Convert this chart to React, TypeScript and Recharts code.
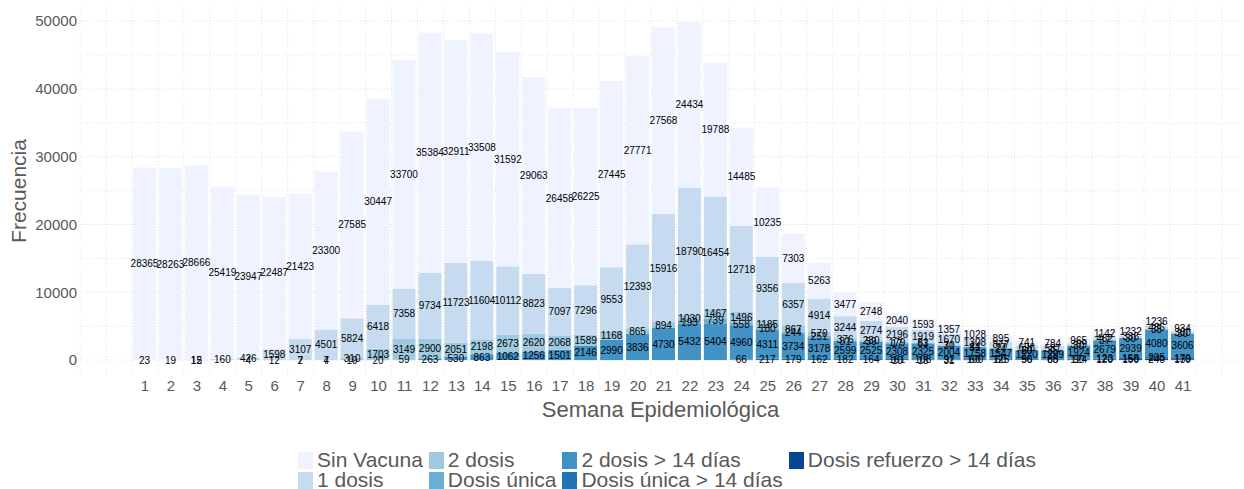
import React from 'react'
import { Bar, BarChart, CartesianGrid, LabelList, XAxis, YAxis } from 'recharts'

const weeks = [
  1, 2, 3, 4, 5, 6, 7, 8, 9, 10, 11, 12, 13, 14, 15, 16, 17, 18, 19, 20, 21,
  22, 23, 24, 25, 26, 27, 28, 29, 30, 31, 32, 33, 34, 35, 36, 37, 38, 39, 40, 41,
]

const sinVacuna = [
  28365, 28263, 28666, 25419, 23947, 22487, 21423, 23300, 27585, 30447, 33700,
  35384, 32911, 33508, 31592, 29063, 26458, 26225, 27445, 27771, 27568, 24434,
  19788, 14485, 10235, 7303, 5263, 3477, 2748, 2040, 1593, 1357, 1028, 895, 741,
  784, 965, 1142, 1232, 1236, 934,
]
const unaDosis = [
  23, 19, 15, 160, 426, 1598, 3107, 4501, 5824, 6418, 7358, 9734, 11723, 11604,
  10112, 8823, 7097, 7296, 9553, 12393, 15916, 18790, 16454, 12718, 9356, 6357,
  4914, 3244, 2774, 2196, 1919, 1670, 1308, 877, 696, 581, 309, 462, 336, 486, 300,
]
const dosDosis = [
  0, 0, 12, 0, 4, 12, 7, 7, 310, 1703, 3149, 2900, 2051, 2198, 2673, 2620, 2068,
  1589, 1168, 865, 894, 1030, 1467, 1496, 1185, 867, 570, 376, 280, 179, 81, 70,
  44, 77, 60, 35, 30, 37, 30, 35, 30,
]
const dosisUnica = [
  0, 0, 0, 0, 0, 0, 0, 0, 0, 0, 0, 0, 0, 0, 0, 0, 0, 0, 0, 0, 0, 193, 739, 558,
  180, 244, 251, 81, 59, 17, 63, 31, 31, 24, 20, 0, 0, 0, 0, 0, 0,
]
const dosDosis14 = [
  0, 0, 0, 0, 0, 0, 2, 4, 19, 20, 59, 263, 530, 863, 1062, 1256, 1501, 2146,
  2990, 3836, 4730, 5432, 5404, 4960, 4311, 3734, 3178, 2599, 2525, 2308, 2325,
  2004, 1758, 1547, 1270, 1299, 1924, 2679, 2939, 4080, 3606,
]
const dosisUnica14 = [
  0, 0, 0, 0, 0, 0, 0, 0, 0, 0, 0, 0, 0, 0, 0, 0, 0, 0, 0, 0, 0, 0, 0, 66, 217,
  179, 162, 182, 164, 161, 108, 92, 100, 125, 56, 85, 124, 123, 158, 205, 179,
]
const refuerzo14 = [
  0, 0, 0, 0, 0, 0, 0, 0, 0, 0, 0, 0, 0, 0, 0, 0, 0, 0, 0, 0, 0, 0, 0, 0, 0, 0,
  0, 0, 0, 10, 18, 31, 60, 60, 90, 60, 90, 120, 150, 240, 130,
]

const yTicks = [0, 10000, 20000, 30000, 40000, 50000]
const yGrid = [0, 5000, 10000, 15000, 20000, 25000, 30000, 35000, 40000, 45000, 50000]
const xGrid = [-1.5, -0.5, ...weeks.map((w) => w - 0.5), 41.5, 42.5]

// bottom of the stack first
const series = [
  { key: 'refuerzo14', name: 'Dosis refuerzo > 14 días', color: '#084594', values: refuerzo14 },
  { key: 'dosisUnica14', name: 'Dosis única > 14 días', color: '#2171b5', values: dosisUnica14 },
  { key: 'dosDosis14', name: '2 dosis > 14 días', color: '#4292c6', values: dosDosis14 },
  { key: 'dosisUnica', name: 'Dosis única', color: '#6baed6', values: dosisUnica },
  { key: 'dosDosis', name: '2 dosis', color: '#9ecae1', values: dosDosis },
  { key: 'unaDosis', name: '1 dosis', color: '#c6dbef', values: unaDosis },
  { key: 'sinVacuna', name: 'Sin Vacuna', color: '#eff3ff', values: sinVacuna },
]

const legendOrder = [...series].reverse()

const data = weeks.map((week, i) => {
  const row: Record<string, number> = { week }
  series.forEach((s) => {
    row[s.key] = s.values[i]
  })
  return row
})

const FONT = '"Liberation Sans", Arial, Helvetica, sans-serif'
const TEXT = '#595959'

export default function App() {
  return (
    <div
      style={{
        position: 'absolute',
        left: 0,
        top: 0,
        width: 1244,
        height: 489,
        background: '#fff',
        fontFamily: FONT,
      }}
    >
      <BarChart
        width={1244}
        height={489}
        data={data}
        margin={{ top: 5, right: 4, bottom: 72, left: 0 }}
        barCategoryGap={0}
      >
        <CartesianGrid
          stroke="#e3e3e3"
          strokeDasharray="1 2"
          horizontalValues={yGrid}
          verticalValues={xGrid}
        />
        <XAxis
          dataKey="week"
          type="number"
          domain={[-1.466, 43.197]}
          allowDataOverflow
          ticks={weeks}
          interval={0}
          tickLine={false}
          axisLine={false}
          tickSize={0}
          tickMargin={3}
          height={40}
          tick={{ fill: TEXT, fontSize: 15, fontFamily: FONT }}
          label={{
            value: 'Semana Epidemiológica',
            position: 'insideBottom',
            offset: 0,
            fill: TEXT,
            fontSize: 22,
            fontFamily: FONT,
          }}
        />
        <YAxis
          type="number"
          domain={[-2494, 52373]}
          allowDataOverflow
          ticks={yTicks}
          width={81}
          tickLine={false}
          axisLine={false}
          tickSize={0}
          tickMargin={4}
          tick={{ fill: TEXT, fontSize: 15, fontFamily: FONT }}
          label={{
            value: 'Frecuencia',
            angle: -90,
            position: 'insideLeft',
            offset: 19,
            fill: TEXT,
            fontSize: 21,
            fontFamily: FONT,
            style: { textAnchor: 'middle' },
          }}
        />
        {series.map((s) => (
          <Bar
            key={s.key}
            dataKey={s.key}
            name={s.name}
            stackId="a"
            fill={s.color}
            barSize={23}
            isAnimationActive={false}
          >
            <LabelList
              dataKey={s.key}
              position="center"
              fill="#000"
              fontSize={10}
              fontFamily={FONT}
              formatter={(v: any) => (v ? String(v) : '')}
            />
          </Bar>
        ))}
      </BarChart>

      <div
        style={{
          position: 'absolute',
          left: 298,
          top: 450,
          display: 'grid',
          gridTemplateRows: 'repeat(2, 20px)',
          gridAutoFlow: 'column',
          columnGap: 6,
          color: TEXT,
          fontSize: 21,
          lineHeight: '20px',
        }}
      >
        {legendOrder.map((s) => (
          <div key={s.key} style={{ display: 'flex', alignItems: 'center', whiteSpace: 'nowrap' }}>
            <span
              style={{ width: 15, height: 17, background: s.color, display: 'inline-block', marginRight: 4 }}
            />
            <span>{s.name}</span>
          </div>
        ))}
      </div>
    </div>
  )
}
